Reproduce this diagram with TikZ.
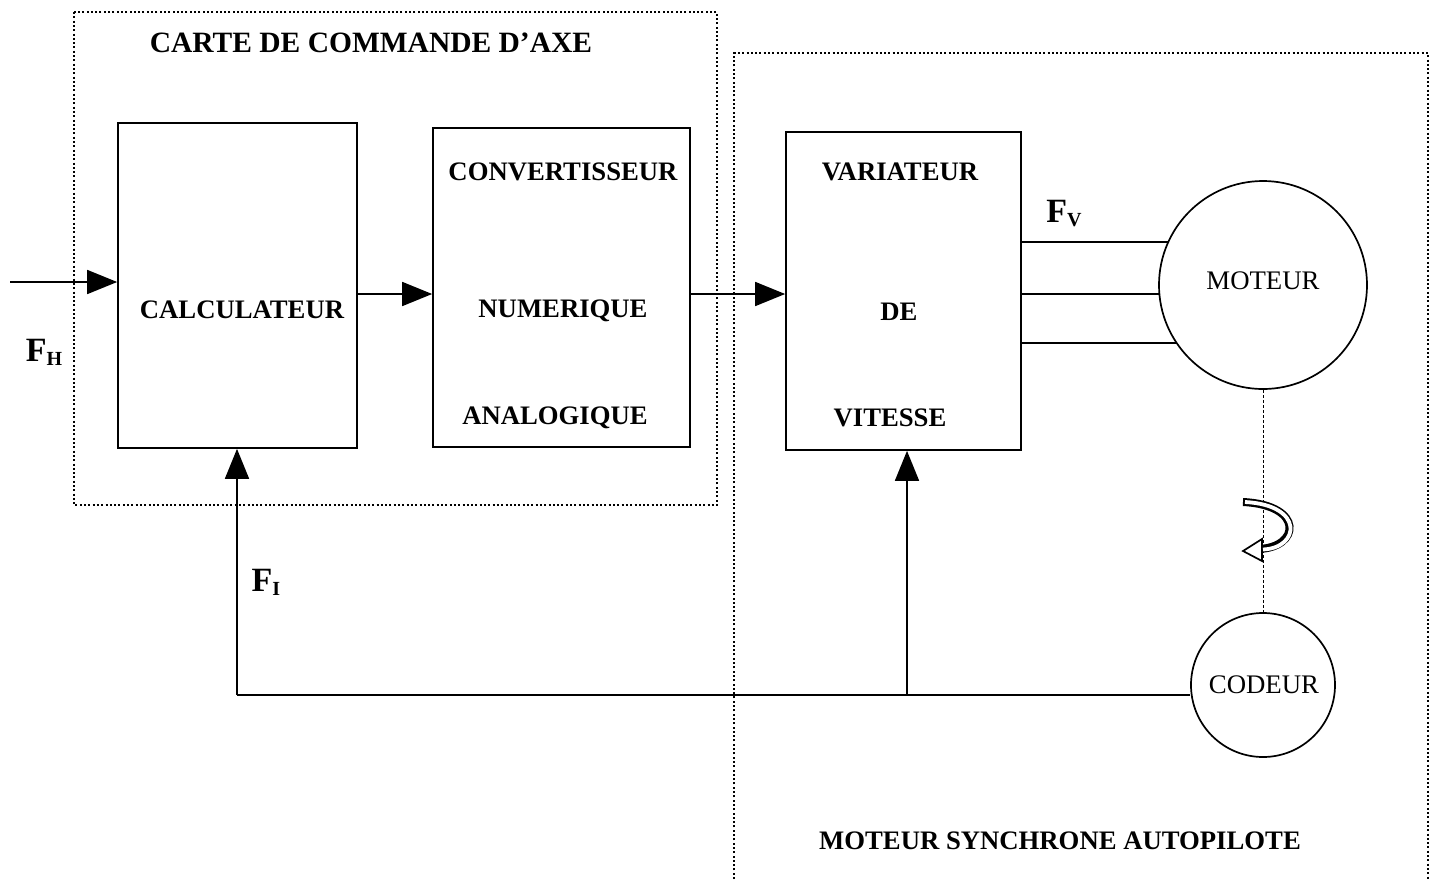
\documentclass[tikz,border=0pt]{standalone}
\usepackage{fontspec}
\setmainfont{Liberation Serif}
\usetikzlibrary{arrows.meta,calc}
\begin{document}
\begin{tikzpicture}[x=1pt,y=-1pt,
  blk/.style={draw,line width=1.7pt,inner sep=0pt},
  lbl/.style={font=\fontsize{26.7}{30}\selectfont\bfseries,inner sep=0pt},
  ttl/.style={font=\fontsize{29.5}{32}\selectfont\bfseries,inner sep=0pt},
  rlbl/.style={font=\fontsize{26.8}{30}\selectfont,inner sep=0pt},
  flbl/.style={inner sep=0pt,font=\fontsize{34}{36}\selectfont\bfseries},
  frame/.style={line width=2pt,dash pattern=on 2pt off 2.3pt},
  conn/.style={line width=1.7pt},
  arr/.style={conn,-{Triangle[length=30pt,width=24pt]}}]
\useasboundingbox (0,0) rectangle (1436,879);
% frames
\draw[frame] (74,12) rectangle (717,505);
\draw[frame] (734,879) -- (734,53) -- (1428,53) -- (1428,879);
\node[ttl] (t1) at (371,43) {CARTE DE COMMANDE D’AXE};
\node[lbl] (t2) at (1060,841) {MOTEUR SYNCHRONE AUTOPILOTE};
% blocks
\node[blk,minimum width=239,minimum height=325] (calc) at (237.5,285.5) {};
\node[lbl] at (242,310) {CALCULATEUR};
\node[blk,minimum width=257,minimum height=319] (conv) at (561.5,287.5) {};
\node[lbl] at (563,172) {CONVERTISSEUR};
\node[lbl] at (563,311) {NUMERIQUE};
\node[lbl] at (555,418) {ANALOGIQUE};
\node[blk,minimum width=235,minimum height=318] (var) at (903.5,291) {};
\node[lbl] at (900,172) {VARIATEUR};
\node[lbl] at (899,312) {DE};
\node[lbl] at (890,418) {VITESSE};
\node[blk,circle,minimum size=208] (mot) at (1263,285) {};
\node[rlbl] at (1263,281) {MOTEUR};
\node[blk,circle,minimum size=144] (cod) at (1263,685) {};
\node[rlbl] at (1264,685) {CODEUR};
% labels
\node[flbl] (fh) at (44,352) {F\raisebox{-4pt}{\fontsize{20}{22}\selectfont H}};
\node[flbl] (fi) at (266,582) {F\raisebox{-4pt}{\fontsize{20}{22}\selectfont I}};
\node[flbl] (fv) at (1064,214) {F\raisebox{-4pt}{\fontsize{20}{22}\selectfont V}};
% connectors
\coordinate (in) at (10,282);
\draw[arr] (in) -- (calc.west |- in);
\draw[arr] (calc.east |- 0,294) -- (conv.west |- 0,294);
\draw[arr] (conv.east |- 0,294) -- (var.west |- 0,294);
\foreach \yy/\dx in {242/94.7,294/103.6,343/86.3}{
  \draw[conn] (var.east |- 0,\yy) -- (1263-\dx,\yy);
}
\coordinate (fb) at (237,695);
\coordinate (fb2) at (907,695);
\draw[conn] (cod.west |- fb) -- (fb);
\draw[arr] (fb) -- (calc.south -| fb);
\draw[arr] (fb2) -- (var.south -| fb2);
% shaft
\draw[line width=0.9pt,dash pattern=on 3pt off 2pt] (mot.south) -- (cod.north);
% rotation arrow
\draw[line width=8pt] (1243,502) .. controls (1305,505) and (1300,548) .. (1258,549);
\draw[line width=1.7pt,fill=white,line join=miter] (1243,551) -- (1262,539) -- (1262,561) -- cycle;
\draw[line width=3.8pt,white] (1245,502) .. controls (1305,505) and (1300,548) .. (1263,549.5);
\end{tikzpicture}
\end{document}
